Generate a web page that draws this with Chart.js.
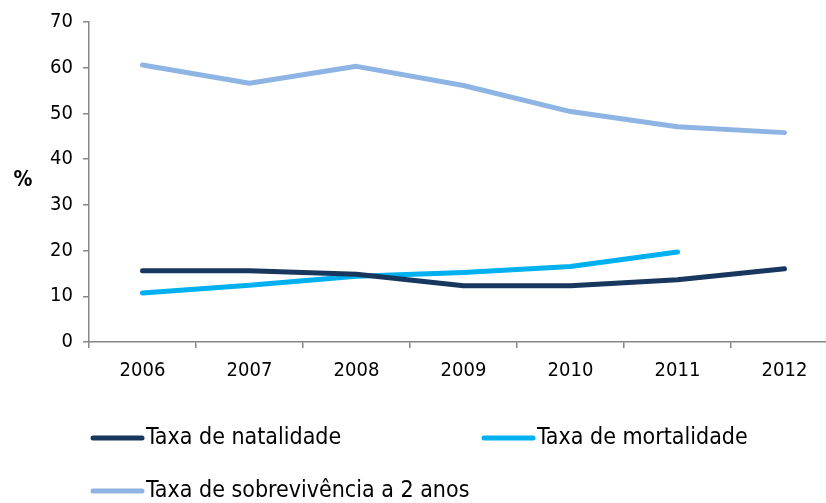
<!DOCTYPE html>
<html>
<head>
<meta charset="utf-8">
<script src="https://cdn.jsdelivr.net/npm/chart.js@4"></script>
<style>
  html, body { margin: 0; padding: 0; background: #fff; overflow: hidden; }
  #wrap { width: 838px; height: 503px; }
</style>
</head>
<body>
<div id="wrap"><canvas id="taxasChart"></canvas></div>
<script>
// dados
const anos = ["2006", "2007", "2008", "2009", "2010", "2011", "2012"];
const natalidade = [15.6, 15.6, 14.8, 12.3, 12.3, 13.6, 16.0];
const mortalidade = [10.7, 12.4, 14.4, 15.2, 16.5, 19.7, null];
const sobrevivencia = [60.6, 56.6, 60.3, 56.1, 50.4, 47.1, 45.8];
const ticksY = [0, 10, 20, 30, 40, 50, 60, 70];

const fonte = "'DejaVu Sans Condensed', 'DejaVu Sans', sans-serif";
const cinza = "#868686";

// legenda desenhada à mão, alinhada à esquerda em duas colunas
const legendaFixa = {
    id: "legendaFixa",
    afterDraw(chart) {
        const ctx = chart.ctx;
        const pos = [[90, 438], [481, 438], [90, 491]];
        ctx.save();
        ctx.font = "23px " + fonte;
        ctx.textBaseline = "middle";
        chart.data.datasets.forEach((ds, i) => {
            const [x, y] = pos[i];
            ctx.strokeStyle = ds.borderColor;
            ctx.lineWidth = 5;
            ctx.lineCap = "round";
            ctx.beginPath();
            ctx.moveTo(x + 3, y);
            ctx.lineTo(x + 52, y);
            ctx.stroke();
            ctx.fillStyle = "#000";
            ctx.fillText(ds.label, x + 56, y);
        });
        // título do eixo
        ctx.font = "bold 21px " + fonte;
        ctx.textAlign = "center";
        ctx.fillText("%", 23, 181);
        ctx.restore();
    }
};

const ctx = document.getElementById("taxasChart").getContext("2d");

const serie = (label, data, cor) => ({
    label: label,
    data: data,
    borderColor: cor,
    backgroundColor: cor,
    borderWidth: 5,
    borderCapStyle: "round",
    borderJoinStyle: "round",
    pointRadius: 0,
    tension: 0,
    spanGaps: false
});

new Chart(ctx, {
    type: "line",
    data: {
        labels: anos,
        datasets: [
            serie("Taxa de natalidade", natalidade, "#17375E"),
            serie("Taxa de mortalidade", mortalidade, "#00B0F0"),
            serie("Taxa de sobrevivência a 2 anos", sobrevivencia, "#8DB4E2")
        ]
    },
    options: {
        responsive: true,
        maintainAspectRatio: false,
        animation: false,
        layout: { padding: { top: 21, left: 0, right: 0, bottom: 0 } },
        plugins: {
            legend: { display: false },
            tooltip: { enabled: false }
        },
        scales: {
            x: {
                offset: true,
                grid: { offset: true, drawOnChartArea: false, color: cinza, tickLength: 6, lineWidth: 1.5 },
                border: { color: cinza, width: 1.5 },
                ticks: { color: "#000", font: { family: fonte, size: 20 }, padding: 11, maxRotation: 0 },
                afterFit: (s) => { s.height = 161; }
            },
            y: {
                min: 0,
                max: 70,
                afterBuildTicks: (s) => { s.ticks = ticksY.map(v => ({ value: v })); },
                grid: { drawOnChartArea: false, color: cinza, tickLength: 6, lineWidth: 1.5 },
                border: { color: cinza, width: 1.5 },
                ticks: { color: "#000", font: { family: fonte, size: 20 }, padding: 10 },
                afterFit: (s) => { s.width = 89; }
            }
        }
    },
    plugins: [legendaFixa]
});
</script>
</body>
</html>
